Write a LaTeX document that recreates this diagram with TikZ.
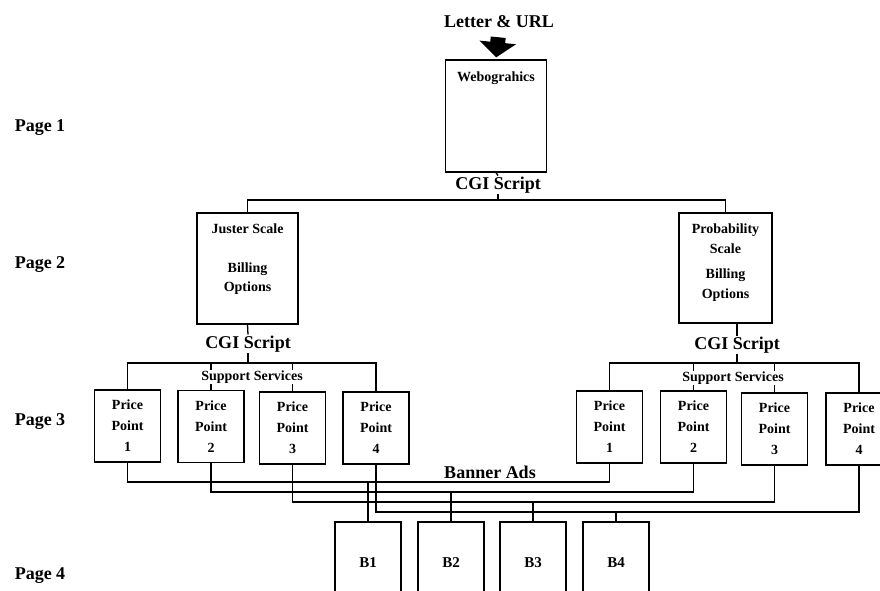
\documentclass[tikz,border=0pt]{standalone}
\usepackage{fontspec}
\setmainfont{Liberation Serif}
\usepackage{tikz}
\usetikzlibrary{arrows.meta, positioning, calc}

\begin{document}
\begin{tikzpicture}[x=1pt, y=-1pt,
    box/.style={draw, line width=1.3pt, minimum width=66pt, minimum height=72pt, inner sep=0pt},
    big/.style={font=\fontsize{18}{20}\selectfont\bfseries, inner sep=1pt},
    small/.style={font=\fontsize{14}{20}\selectfont\bfseries, inner sep=0pt, align=center},
    wire/.style={line width=1.3pt}]
    \path[use as bounding box, clip] (0,0) rectangle (880,590);

    % Page labels
    \foreach \n/\y in {1/128, 2/265, 3/422, 4/576}
        \node[big] (page\n) at (40,\y) {Page \n};

    % Page 1
    \node[big] (letter) at (499,22) {Letter \& URL};
    \node[box, minimum width=101pt, minimum height=112pt] (web) at (496,116) {};
    \node[small] (webtxt) at ($(web.north)+(0,19)$) {Webograhics};
    \draw[-{Triangle[width=36pt,length=15pt]}, line width=15pt, shorten <=8pt, shorten >=2pt]
        (letter.south) -- (web.north);

    \node[big] (cgi1) at (498,185) {CGI Script};
    \coordinate (topbus) at (498,200);
    \draw[wire] (web.south) -- (cgi1.north);
    \draw[wire] (cgi1.south) -- (topbus);

    % Page 2
    \node[box, minimum width=101pt, minimum height=111pt] (jus) at (247.5,268.5) {};
    \node[box, minimum width=93pt, minimum height=110pt] (prob) at (725.5,268) {};
    \draw[wire] (jus.north) |- (topbus) -| (prob.north);
    \node[small] at ($(jus.north)+(0,16)$) {Juster Scale};
    \node[small, font=\fontsize{14}{19}\selectfont\bfseries] at ($(jus.north)+(0,66)$) {Billing\\Options};
    \node[small] at ($(prob.north)+(0,26)$) {Probability\\Scale};
    \node[small] at ($(prob.north)+(0,73)$) {Billing\\Options};

    \node[big] (cgi2) at (248,344) {CGI Script};
    \node[big] (cgi3) at (737,345) {CGI Script};
    \draw[wire] (jus.south) -- (cgi2.north);
    \draw[wire] (prob.south -| cgi3.north) -- (cgi3.north);

    % Page 3
    \foreach \i/\x/\y in {1/127.5/426, 2/211/426.5, 3/292.5/428, 4/376/428} {
        \node[box] (l\i) at (\x,\y) {};
        \node[small, font=\fontsize{14}{21}\selectfont\bfseries] at (l\i) {Price\\Point\\\i};
    }
    \foreach \i/\x/\y in {1/609.5/427, 2/693.5/427, 3/774.5/429, 4/859/429} {
        \node[box] (r\i) at (\x,\y) {};
        \node[small, font=\fontsize{14}{21}\selectfont\bfseries] at (r\i) {Price\\Point\\\i};
    }

    \coordinate (lbus) at (248,363);
    \coordinate (rbus) at (737,363);
    \draw[wire] (cgi2.south) -- (lbus);
    \draw[wire] (cgi3.south) -- (rbus);
    \draw[wire] (l1.north) |- (lbus) -| (l4.north);
    \draw[wire] (r1.north) |- (rbus) -| (r4.north);
    \foreach \s in {l2, l3, r2, r3}
        \draw[wire] (\s.north) -- (\s.north |- lbus);
    \node[small, fill=white, inner sep=1pt] (supl) at (252,377) {Support Services};
    \node[small, fill=white, inner sep=1pt] (supr) at (733,378) {Support Services};

    % Page 4
    \node[big] (banner) at (490,472) {Banner Ads};
    \foreach \i/\y/\bx in {1/482/368, 2/492/451, 3/502/533, 4/512/616} {
        \node[box, minimum height=80pt] (b\i) at (\bx,562) {};
        \node[small, font=\fontsize{15}{20}\selectfont\bfseries] at ($(b\i.north)+(0,41)$) {B\i};
        \coordinate (h\i) at (\bx,\y);
        \draw[wire] (l\i.south) |- (h\i) -| (r\i.south);
        \draw[wire] (h\i) -- (b\i.north);
    }
\end{tikzpicture}
\end{document}
